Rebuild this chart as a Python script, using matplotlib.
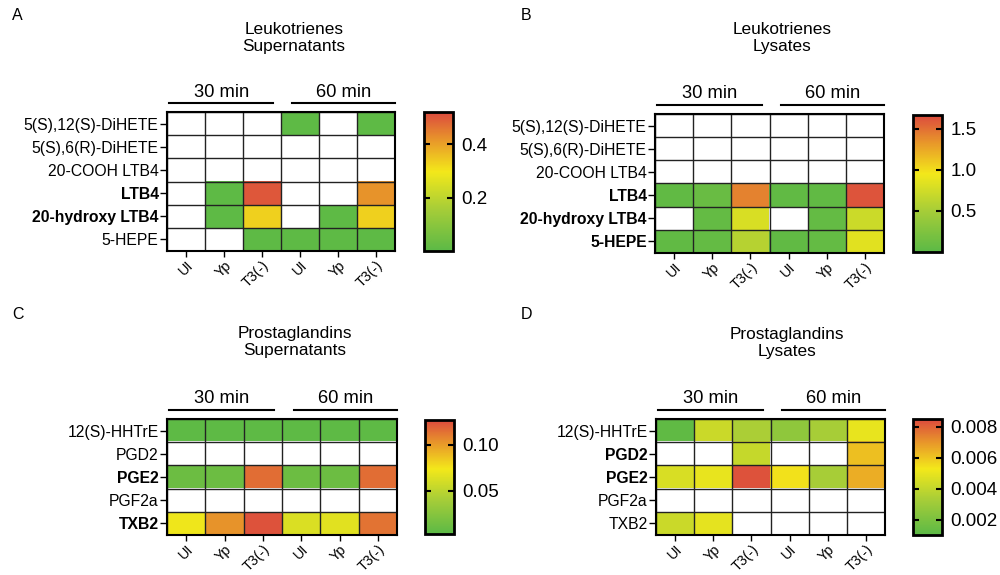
import numpy as np
import matplotlib
matplotlib.use("Agg")
import matplotlib.pyplot as plt
from matplotlib.colors import LinearSegmentedColormap
from matplotlib.ticker import FormatStrFormatter

plt.rcParams['font.family'] = ['Liberation Sans', 'DejaVu Sans']

nan = np.nan
conditions = ["UI", "Yp", "T3(-)", "UI", "Yp", "T3(-)"]

lt_rows = ["5(S),12(S)-DiHETE", "5(S),6(R)-DiHETE", "20-COOH LTB4",
           "LTB4", "20-hydroxy LTB4", "5-HEPE"]
pg_rows = ["12(S)-HHTrE", "PGD2", "PGE2", "PGF2a", "TXB2"]

# A: leukotrienes, supernatants
lt_sup = [
    [nan, nan, nan, 0.01, nan, 0.01],
    [nan, nan, nan, nan, nan, nan],
    [nan, nan, nan, nan, nan, nan],
    [nan, 0.01, 0.50, nan, nan, 0.42],
    [nan, 0.01, 0.33, nan, 0.01, 0.33],
    [nan, nan, 0.01, 0.01, 0.01, 0.01],
]
# B: leukotrienes, lysates
lt_lys = [
    [nan, nan, nan, nan, nan, nan],
    [nan, nan, nan, nan, nan, nan],
    [nan, nan, nan, nan, nan, nan],
    [0.05, 0.10, 1.42, 0.05, 0.05, 1.62],
    [nan, 0.07, 0.80, nan, 0.07, 0.72],
    [0.05, 0.07, 0.60, 0.05, 0.07, 0.85],
]
# C: prostaglandins, supernatants
pg_sup = [
    [0.005, 0.005, 0.005, 0.005, 0.005, 0.005],
    [nan, nan, nan, nan, nan, nan],
    [0.012, 0.012, 0.115, 0.012, 0.012, 0.115],
    [nan, nan, nan, nan, nan, nan],
    [0.072, 0.103, 0.124, 0.063, 0.066, 0.113],
]
# D: prostaglandins, lysates
pg_lys = [
    [0.0012, 0.0042, 0.0034, 0.0026, 0.0033, 0.0050],
    [nan, nan, 0.0041, nan, nan, 0.0061],
    [0.0046, 0.0050, 0.0083, 0.0054, 0.0033, 0.0065],
    [nan, nan, nan, nan, nan, nan],
    [0.0042, 0.0049, nan, nan, nan, nan],
]

cmap = LinearSegmentedColormap.from_list("gyr", [
    (0.0, "#5bb946"), (0.3, "#a6cd38"), (0.57, "#f3e81a"),
    (0.8, "#e8962a"), (1.0, "#dc4a3e")])
cmap.set_bad("white")

fig = plt.figure(figsize=(10, 5.75), dpi=100)
W, H = 1000, 575


def px_axes(x0, y0, x1, y1):
    return fig.add_axes([x0 / W, 1 - y1 / H, (x1 - x0) / W, (y1 - y0) / H])


def panel(box, cbox, data, rows, bold, vmin, vmax, cticks, fmt, title, tpos, letter, lpos):
    ax = px_axes(*box)
    arr = np.ma.masked_invalid(np.array(data))
    im = ax.imshow(arr, cmap=cmap, vmin=vmin, vmax=vmax, aspect="auto",
                   interpolation="nearest")
    nr, nc = arr.shape
    row_px = (box[3] - box[1]) / nr
    ax.set_xticks(np.arange(-0.5, nc), minor=True)
    ax.set_yticks(np.arange(-0.5, nr), minor=True)
    ax.grid(which="minor", color="#222222", lw=1)
    ax.tick_params(which="minor", length=0)
    ax.set_xticks(range(nc))
    ax.set_xticklabels(conditions, rotation=45, ha="right", rotation_mode="anchor",
                       fontsize=10.3)
    ax.set_yticks(range(nr))
    ax.set_yticklabels(rows, fontsize=11.3)
    for lab in ax.get_yticklabels():
        if lab.get_text() in bold:
            lab.set_fontweight("bold")
    ax.tick_params(axis="both", length=5, width=1, pad=1)
    ax.tick_params(axis="x", length=4, pad=1)
    for s in ax.spines.values():
        s.set_linewidth(1.5)

    # time group bars
    ybar = -0.5 - 9 / row_px
    ytxt = -0.5 - 20 / row_px
    for (a, b), txt in [((-0.45, 2.3), "30 min"), ((2.8, 5.5), "60 min")]:
        ax.plot([a, b], [ybar, ybar], color="black", lw=1.5, clip_on=False)
        ax.text((a + b) / 2, ytxt, txt, ha="center", va="center", fontsize=13.2)
    ax.set_xlim(-0.5, nc - 0.5)
    ax.set_ylim(nr - 0.5, -0.5)

    fig.text(tpos[0] / W, 1 - tpos[1] / H, title, ha="center", va="center",
             fontsize=12.4, linespacing=1.2)
    fig.text(lpos[0] / W, 1 - lpos[1] / H, letter, fontsize=11.5, ha="left", va="center")

    cax = px_axes(*cbox)
    cb = fig.colorbar(im, cax=cax)
    cb.set_ticks(cticks)
    cb.ax.yaxis.set_major_formatter(FormatStrFormatter(fmt))
    cb.ax.tick_params(direction="in", left=True, right=True, length=4, width=1.5,
                      labelsize=13.5, pad=6)
    cb.outline.set_linewidth(2)


panel((167, 112, 395, 251), (424, 112, 453, 251), lt_sup, lt_rows,
      ["LTB4", "20-hydroxy LTB4"], 0.0, 0.52, [0.2, 0.4], "%.1f",
      "Leukotrienes\nSupernatants", (294, 38), "A", (12, 15))
panel((655, 114, 884, 253), (913, 115, 942, 252), lt_lys, lt_rows,
      ["LTB4", "20-hydroxy LTB4", "5-HEPE"], 0.0, 1.67, [0.5, 1.0, 1.5], "%.1f",
      "Leukotrienes\nLysates", (782, 38), "B", (521, 15))
panel((167, 419, 397, 535), (425, 420, 454, 534), pg_sup, pg_rows,
      ["PGE2", "TXB2"], 0.003, 0.127, [0.05, 0.10], "%.2f",
      "Prostaglandins\nSupernatants", (295, 342), "C", (12, 315))
panel((656, 419, 885, 535), (913, 419, 942, 535), pg_lys, pg_rows,
      ["PGD2", "PGE2"], 0.001, 0.0085, [0.002, 0.004, 0.006, 0.008], "%.3f",
      "Prostaglandins\nLysates", (787, 343), "D", (521, 315))

fig.savefig("out.png", dpi=100)
